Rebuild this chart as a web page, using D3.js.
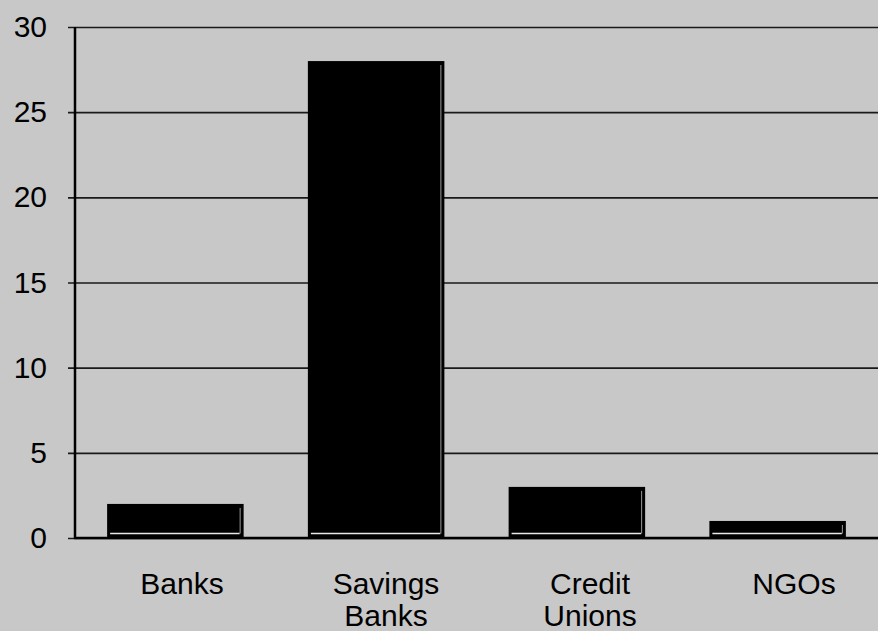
<!DOCTYPE html>
<html>
<head>
<meta charset="utf-8">
<script src="https://cdn.jsdelivr.net/npm/d3@7"></script>
<style>
  html, body { margin: 0; padding: 0; background: #c8c8c8; }
  svg { display: block; }
  text { font-family: "Liberation Sans", Arial, sans-serif; fill: #000; }
</style>
</head>
<body>
<svg id="chart" width="878" height="631"></svg>
<script>
// Institution categories (multi-line labels split on "\n")
const categories = ["Banks", "Savings\nBanks", "Credit\nUnions", "NGOs"];
const values = [2, 28, 3, 1];
const yTicks = [0, 5, 10, 15, 20, 25, 30];

const W = 878, H = 631;
const margin = { top: 27, right: 0, bottom: 93, left: 75 };

const svg = d3.select("#chart");

svg.append("rect")
  .attr("width", W).attr("height", H)
  .attr("fill", "#c8c8c8");

const x = d3.scaleBand()
  .domain(categories)
  .range([margin.left, W - margin.right])
  .paddingInner(0.32)
  .paddingOuter(0.16);

// Category label positions sit slightly right of the bar centres
const xLabel = d3.scalePoint()
  .domain(categories)
  .range([182, 794]);

const y = d3.scaleLinear()
  .domain([0, 30])
  .range([H - margin.bottom, margin.top]);

// Horizontal gridlines with short ticks left of the axis
const yAxis = d3.axisLeft(y)
  .tickValues(yTicks)
  .tickSize(-(W - margin.left))
  .tickFormat(d3.format("d"));

const gAxis = svg.append("g")
  .attr("transform", `translate(${margin.left},0)`)
  .call(yAxis);

gAxis.select(".domain").remove();
gAxis.selectAll(".tick line")
  .attr("x1", -7)
  .attr("stroke", "#1a1a1a")
  .attr("stroke-width", 1.6);
gAxis.selectAll(".tick text")
  .attr("font-size", 30)
  .attr("text-anchor", "end")
  .attr("x", -28);

// Bars
const bars = svg.append("g");
categories.forEach((c, i) => {
  const x0 = x(c), bw = x.bandwidth();
  const yTop = y(values[i]), yBase = y(0);
  bars.append("rect")
    .attr("x", x0).attr("y", yTop)
    .attr("width", bw).attr("height", yBase - yTop)
    .attr("fill", "#000");
  // light edge highlights inside each bar
  bars.append("line")
    .attr("x1", x0 + 3).attr("x2", x0 + bw - 4)
    .attr("y1", yBase - 4.5).attr("y2", yBase - 4.5)
    .attr("stroke", "#e8e8e8").attr("stroke-width", 1.5);
  bars.append("line")
    .attr("x1", x0 + bw - 3.5).attr("x2", x0 + bw - 3.5)
    .attr("y1", yTop + 4).attr("y2", yBase - 4.5)
    .attr("stroke", "#9a9a9a").attr("stroke-width", 1);
});

// Axis lines
svg.append("line")
  .attr("x1", margin.left).attr("x2", margin.left)
  .attr("y1", margin.top).attr("y2", y(0) + 1)
  .attr("stroke", "#000").attr("stroke-width", 2.5);
svg.append("line")
  .attr("x1", margin.left - 1).attr("x2", W)
  .attr("y1", y(0)).attr("y2", y(0))
  .attr("stroke", "#000").attr("stroke-width", 2.5);

// Category labels
const labels = svg.append("g");
categories.forEach(c => {
  const cx = xLabel(c);
  const t = labels.append("text")
    .attr("text-anchor", "middle")
    .attr("font-size", 30)
    .attr("x", cx)
    .attr("y", 594);
  c.split("\n").forEach((ln, k) => {
    t.append("tspan")
      .attr("x", cx)
      .attr("dy", k === 0 ? 0 : 32)
      .text(ln);
  });
});
</script>
</body>
</html>
